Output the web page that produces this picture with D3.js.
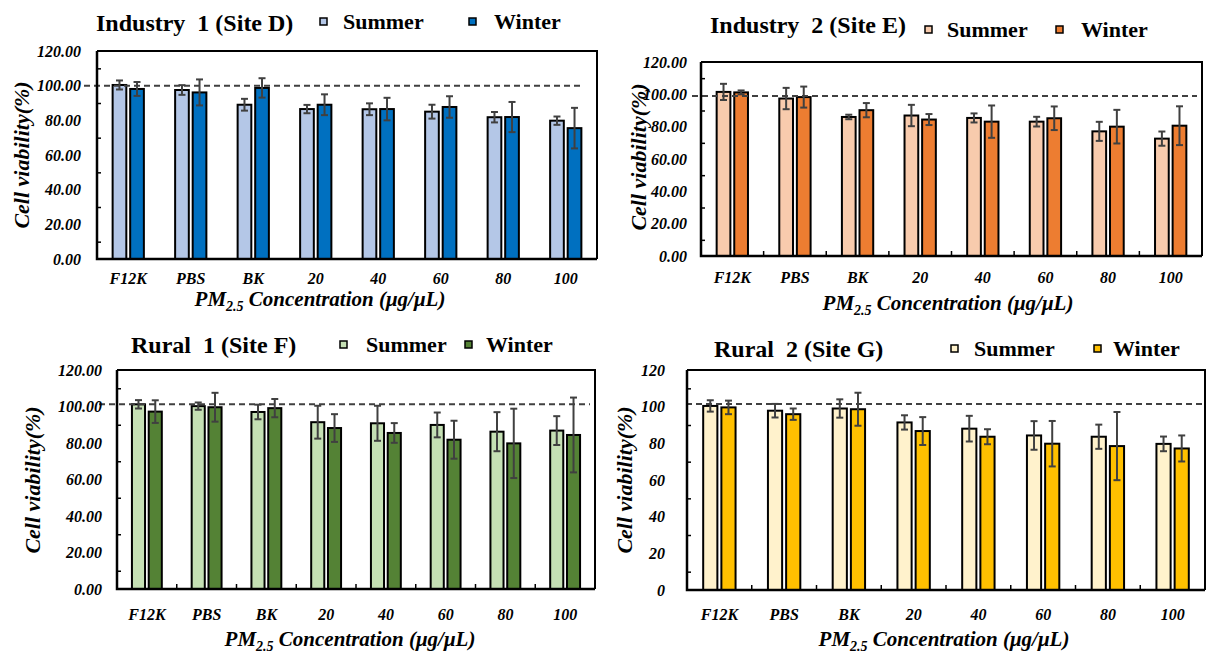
<!DOCTYPE html>
<html>
<head>
<meta charset="utf-8">
<script src="https://cdn.jsdelivr.net/npm/d3@7"></script>
<style>
  body { margin: 0; background: #fff; }
  svg { display: block; }
  svg text { font-family: "Liberation Serif", "Times New Roman", serif; }
</style>
</head>
<body>
<svg id="chart" width="1207" height="656"></svg>
<script>
// categories and seasons
const categories = ["F12K", "PBS", "BK", "20", "40", "60", "80", "100"];
const seasons = ["Summer", "Winter"];

// Industry 1 (Site D)
const siteDSummer = [100.4, 97.5, 89.0, 86.5, 86.4, 85.0, 81.8, 79.8];
const siteDSummerErr = [2.6, 2.8, 3.4, 2.4, 3.4, 4.0, 3.0, 2.4];
const siteDWinter = [98.1, 96.1, 98.7, 89.0, 86.5, 87.7, 81.9, 75.5];
const siteDWinterErr = [4.0, 7.5, 5.6, 6.0, 6.5, 6.2, 8.7, 11.7];

// Industry 2 (Site E)
const siteESummer = [101.5, 97.4, 86.0, 86.9, 85.4, 83.1, 77.1, 72.6];
const siteESummerErr = [5.0, 6.6, 1.4, 6.6, 2.8, 3.0, 5.9, 4.4];
const siteEWinter = [101.2, 98.3, 90.2, 84.4, 83.1, 85.2, 80.0, 80.6];
const siteEWinterErr = [1.2, 6.5, 4.4, 3.4, 10.0, 7.3, 10.4, 12.0];

// Rural 1 (Site F)
const siteFSummer = [101.2, 100.2, 97.0, 91.4, 90.8, 89.9, 86.2, 86.8];
const siteFSummerErr = [2.3, 2.0, 4.0, 9.0, 9.6, 6.8, 10.7, 7.9];
const siteFWinter = [97.2, 99.6, 99.1, 88.2, 85.5, 81.8, 79.8, 84.4];
const siteFWinterErr = [6.2, 7.9, 5.0, 7.6, 5.4, 10.4, 19.0, 20.5];

// Rural 2 (Site G)
const siteGSummer = [100.4, 97.8, 99.0, 91.4, 88.0, 84.3, 83.6, 79.7];
const siteGSummerErr = [3.1, 3.7, 5.0, 3.9, 7.0, 7.8, 6.6, 4.0];
const siteGWinter = [99.6, 95.9, 98.6, 86.7, 83.6, 79.8, 78.5, 77.2];
const siteGWinterErr = [3.7, 3.1, 9.0, 7.6, 4.1, 12.4, 18.6, 7.1];

const yTicks = [0, 20, 40, 60, 80, 100, 120];
const yMinorTicks = [10, 30, 50, 70, 90, 110];

const panels = [
  {
    title: "Industry  1 (Site D)", summer: siteDSummer, summerErr: siteDSummerErr,
    winter: siteDWinter, winterErr: siteDWinterErr, colors: ["#b4c7e7", "#0070c0"],
    left: 97, right: 597, top: 51, bottom: 259, fmt: ".2f", ref: 100,
    titleX: 96, titleY: 31, legendX: [320, 469], legendTextX: [343, 494], legendY: 29,
    dashX: [84, 582], yLabelX: 29, yLabelY: 155, tickRight: 81,
    xTickY: 284, xTitleX: 320, xTitleY: 306, xTicks: false
  },
  {
    title: "Industry  2 (Site E)", summer: siteESummer, summerErr: siteESummerErr,
    winter: siteEWinter, winterErr: siteEWinterErr, colors: ["#f8cbad", "#ed7d31"],
    left: 701, right: 1202, top: 62, bottom: 256, fmt: ".2f", ref: 99,
    titleX: 710, titleY: 33, legendX: [925, 1056], legendTextX: [947, 1081], legendY: 37,
    dashX: [692, 1197], yLabelX: 646, yLabelY: 157, tickRight: 687,
    xTickY: 283, xTitleX: 948, xTitleY: 310, xTicks: true
  },
  {
    title: "Rural  1 (Site F)", summer: siteFSummer, summerErr: siteFSummerErr,
    winter: siteFWinter, winterErr: siteFWinterErr, colors: ["#c5e0b4", "#548235"],
    left: 117, right: 595, top: 370, bottom: 589, fmt: ".2f", ref: 101.3,
    titleX: 131, titleY: 353, legendX: [340, 465], legendTextX: [366, 486], legendY: 352,
    dashX: [99, 590], yLabelX: 40, yLabelY: 480, tickRight: 102,
    xTickY: 620, xTitleX: 350, xTitleY: 646, xTicks: true
  },
  {
    title: "Rural  2 (Site G)", summer: siteGSummer, summerErr: siteGSummerErr,
    winter: siteGWinter, winterErr: siteGWinterErr, colors: ["#fff2cc", "#ffc000"],
    left: 687, right: 1205, top: 370, bottom: 590, fmt: "d", ref: 101.5,
    titleX: 714, titleY: 357, legendX: [951, 1094], legendTextX: [974, 1113], legendY: 356,
    dashX: [686, 1202], yLabelX: 632, yLabelY: 480, tickRight: 665,
    xTickY: 620, xTitleX: 944, xTitleY: 646, xTicks: true
  }
];

const serif = "Liberation Serif, Times New Roman, serif";
const svg = d3.select("#chart");

panels.forEach(p => {
  const g = svg.append("g");

  const x = d3.scaleBand()
    .domain(categories)
    .range([p.left, p.right])
    .paddingInner(0.5)
    .paddingOuter(0.25);

  const xInner = d3.scaleBand()
    .domain(seasons)
    .range([0, x.bandwidth()])
    .paddingInner(0.22);

  const y = d3.scaleLinear()
    .domain([0, 120])
    .range([p.bottom, p.top]);

  const rows = [];
  categories.forEach((c, i) => {
    rows.push({ cat: c, season: "Summer", v: p.summer[i], e: p.summerErr[i], color: p.colors[0] });
    rows.push({ cat: c, season: "Winter", v: p.winter[i], e: p.winterErr[i], color: p.colors[1] });
  });

  // frame (top + right)
  g.append("path")
    .attr("d", `M${p.left},${p.top}H${p.right}V${p.bottom}`)
    .attr("fill", "none")
    .attr("stroke", "#000")
    .attr("stroke-width", 2);

  // bars
  g.append("g")
    .selectAll("rect")
    .data(rows)
    .join("rect")
    .attr("x", d => x(d.cat) + xInner(d.season))
    .attr("y", d => y(d.v))
    .attr("width", xInner.bandwidth())
    .attr("height", d => y(0) - y(d.v))
    .attr("fill", d => d.color)
    .attr("stroke", "#000")
    .attr("stroke-width", 2);

  // error bars
  const err = g.append("g")
    .attr("stroke", "#404040")
    .attr("stroke-width", 2)
    .selectAll("g")
    .data(rows)
    .join("g")
    .attr("transform", d => `translate(${x(d.cat) + xInner(d.season) + xInner.bandwidth() / 2},0)`);
  err.append("line")
    .attr("y1", d => y(d.v - d.e))
    .attr("y2", d => y(d.v + d.e));
  err.append("line")
    .attr("x1", -3.5).attr("x2", 3.5)
    .attr("y1", d => y(d.v + d.e)).attr("y2", d => y(d.v + d.e));
  err.append("line")
    .attr("x1", -3.5).attr("x2", 3.5)
    .attr("y1", d => y(d.v - d.e)).attr("y2", d => y(d.v - d.e));

  // reference dashed line
  g.append("line")
    .attr("x1", p.dashX[0]).attr("x2", p.dashX[1])
    .attr("y1", y(p.ref)).attr("y2", y(p.ref))
    .attr("stroke", "#404040")
    .attr("stroke-width", 2)
    .attr("stroke-dasharray", "6,4");

  // y axis labels
  const yAxis = g.append("g")
    .attr("transform", `translate(${p.left},0)`)
    .call(d3.axisLeft(y).tickValues(yTicks).tickSize(0)
      .tickPadding(p.left - p.tickRight).tickFormat(d3.format(p.fmt)));
  yAxis.attr("font-family", null).attr("font-size", null);
  yAxis.select(".domain").remove();
  yAxis.selectAll("text")
    .style("font-family", serif)
    .style("font-size", "16px").style("font-weight", "bold").style("font-style", "italic")
    .attr("fill", "#000");

  // y minor ticks (inside)
  const yMinor = g.append("g")
    .attr("transform", `translate(${p.left},0)`)
    .call(d3.axisRight(y).tickValues(yMinorTicks).tickSize(4).tickFormat(""));
  yMinor.select(".domain").remove();
  yMinor.selectAll("line").attr("stroke", "#000").attr("stroke-width", 1.5);

  // x axis labels
  const xAxis = g.append("g")
    .attr("transform", `translate(0,${p.bottom})`)
    .call(d3.axisBottom(x).tickSize(0).tickPadding(0));
  xAxis.attr("font-family", null).attr("font-size", null);
  xAxis.select(".domain").remove();
  xAxis.selectAll("text")
    .attr("dy", null)
    .attr("y", p.xTickY - p.bottom)
    .style("font-family", serif)
    .style("font-size", "16px").style("font-weight", "bold").style("font-style", "italic")
    .attr("fill", "#000");

  // x boundary ticks
  if (p.xTicks) {
    const gap = (x.step() - x.bandwidth()) / 2;
    g.append("g")
      .selectAll("line")
      .data(categories.slice(1))
      .join("line")
      .attr("x1", d => x(d) - gap).attr("x2", d => x(d) - gap)
      .attr("y1", p.bottom).attr("y2", p.bottom - 5)
      .attr("stroke", "#000").attr("stroke-width", 1.5);
  }

  // axis lines
  g.append("path")
    .attr("d", `M${p.left},${p.top}V${p.bottom}H${p.right}`)
    .attr("fill", "none")
    .attr("stroke", "#000")
    .attr("stroke-width", 2.5);

  // y title
  g.append("text")
    .attr("transform", `translate(${p.yLabelX},${p.yLabelY}) rotate(-90)`)
    .attr("text-anchor", "middle")
    .style("font-size", "22px").style("font-weight", "bold").style("font-style", "italic")
    .text("Cell viability(%)");

  // x title
  const xt = g.append("text")
    .attr("x", p.xTitleX).attr("y", p.xTitleY)
    .attr("text-anchor", "middle")
    .style("font-size", "21px").style("font-weight", "bold").style("font-style", "italic");
  xt.append("tspan").text("PM");
  xt.append("tspan").style("font-size", "14px").attr("dy", 5).text("2.5");
  xt.append("tspan").attr("dy", -5).text(" Concentration (μg/μL)");

  // title
  g.append("text")
    .attr("x", p.titleX).attr("y", p.titleY)
    .style("font-size", "24px").style("font-weight", "bold")
    .style("white-space", "pre")
    .text(p.title);

  // legend
  seasons.forEach((s, i) => {
    g.append("rect")
      .attr("x", p.legendX[i]).attr("y", p.legendY - 11)
      .attr("width", 7).attr("height", 7)
      .attr("fill", p.colors[i])
      .attr("stroke", "#000").attr("stroke-width", 1.5);
    g.append("text")
      .attr("x", p.legendTextX[i]).attr("y", p.legendY)
      .style("font-size", "22px").style("font-weight", "bold")
      .text(s);
  });
});
</script>
</body>
</html>
